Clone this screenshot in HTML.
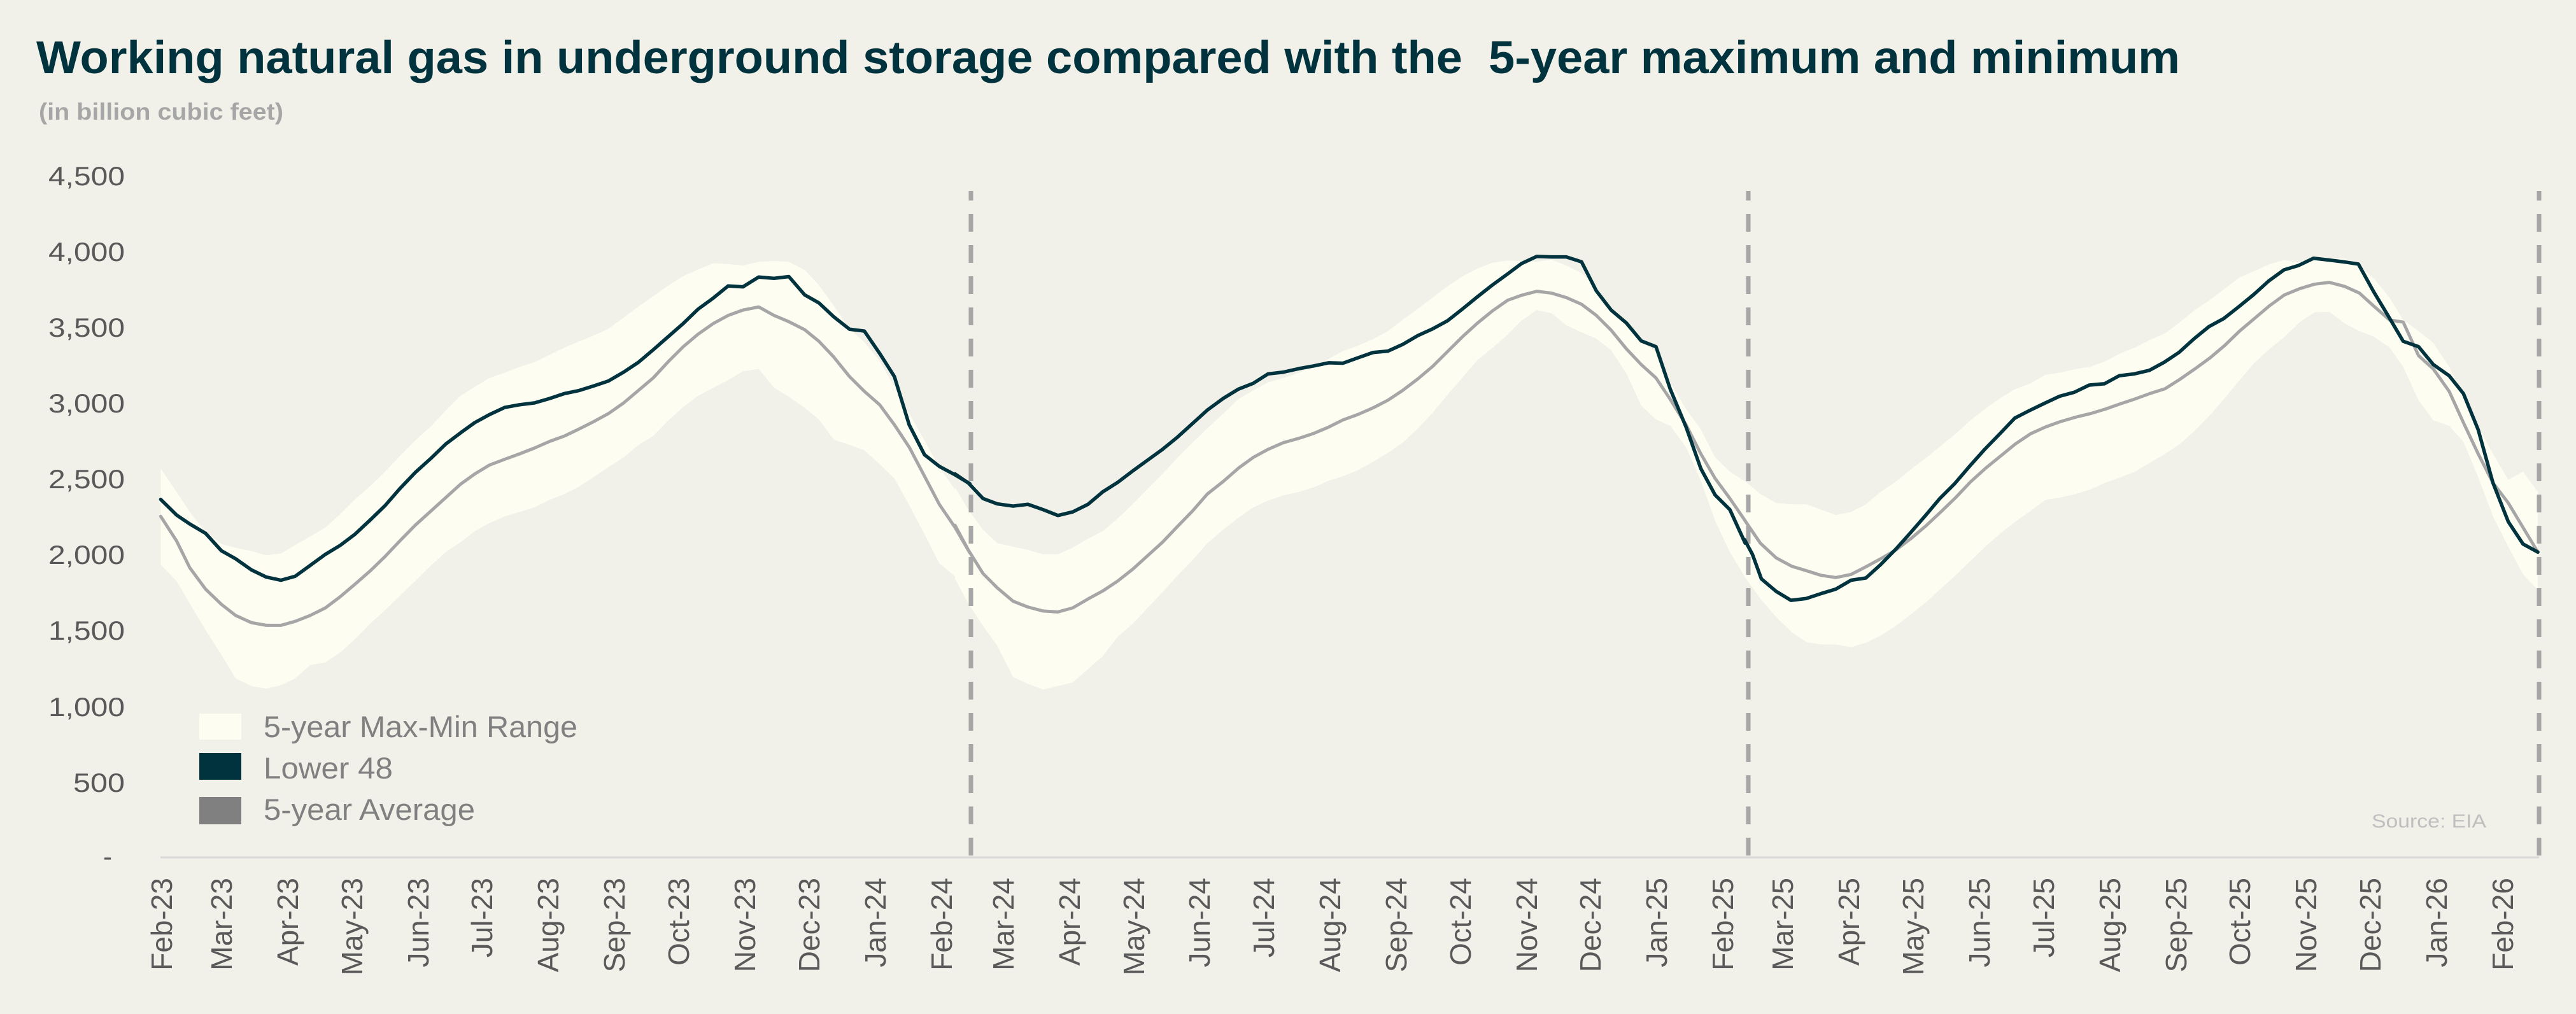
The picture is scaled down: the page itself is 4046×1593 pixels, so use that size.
<!DOCTYPE html>
<html>
<head>
<meta charset="utf-8">
<style>
  html, body { margin: 0; padding: 0; background: #f1f0e9; }
  svg { display: block; }
  text { font-family: "Liberation Sans", Arial, sans-serif; }
</style>
</head>
<body>
<svg width="4046" height="1593" viewBox="0 0 4046 1593" xmlns="http://www.w3.org/2000/svg">
  <rect x="0" y="0" width="4046" height="1593" fill="#f1f0e9"/>

  <!-- Title -->
  <text x="57" y="115" font-size="72" font-weight="bold" fill="#00333d" textLength="3367" lengthAdjust="spacingAndGlyphs" style="white-space:pre">Working natural gas in underground storage compared with the  5-year maximum and minimum</text>
  <text x="61" y="188" font-size="37" font-weight="bold" fill="#a6a6a6" textLength="384" lengthAdjust="spacingAndGlyphs">(in billion cubic feet)</text>

  <!-- Y axis labels -->
  <g font-size="42" fill="#595959" text-anchor="end">
    <text x="196" y="291" textLength="120" lengthAdjust="spacingAndGlyphs">4,500</text>
    <text x="196" y="410" textLength="120" lengthAdjust="spacingAndGlyphs">4,000</text>
    <text x="196" y="529" textLength="120" lengthAdjust="spacingAndGlyphs">3,500</text>
    <text x="196" y="648" textLength="120" lengthAdjust="spacingAndGlyphs">3,000</text>
    <text x="196" y="767" textLength="120" lengthAdjust="spacingAndGlyphs">2,500</text>
    <text x="196" y="886" textLength="120" lengthAdjust="spacingAndGlyphs">2,000</text>
    <text x="196" y="1005" textLength="120" lengthAdjust="spacingAndGlyphs">1,500</text>
    <text x="196" y="1125" textLength="120" lengthAdjust="spacingAndGlyphs">1,000</text>
    <text x="196" y="1244" textLength="81" lengthAdjust="spacingAndGlyphs">500</text>
    <text x="176" y="1360">-</text>
  </g>

  <!-- Band (5-year max-min range) -->
  <g fill="#fdfdf2">
    <polygon transform="translate(240,250) scale(0.82905,0.70151)" points="15,693 45,745 70,790 100,835 130,862 157,870 187,878 215,887 243,883 270,864 298,845 327,825 355,795 383,762 412,732 440,700 468,665 497,630 527,598 555,563 583,530 610,510 638,490 667,478 695,465 723,455 752,438 780,422 808,408 835,395 863,380 892,355 920,330 948,307 977,283 1005,262 1033,247 1062,233 1090,235 1118,238 1148,230 1177,228 1205,230 1235,248 1262,282 1290,328 1320,380 1348,410 1377,452 1405,510 1433,570 1462,630 1490,690 1520,740 1548,795 1568,830 1568,1035 1548,1000 1520,935 1490,905 1462,840 1433,775 1405,715 1377,683 1348,652 1320,640 1290,628 1262,583 1235,557 1205,532 1177,512 1148,470 1118,475 1090,495 1062,512 1033,530 1005,555 977,585 948,620 920,640 892,668 863,690 835,712 808,733 780,750 752,763 723,780 695,790 667,800 638,815 610,833 583,858 555,880 527,910 497,945 468,978 440,1010 412,1040 383,1075 355,1105 327,1127 298,1133 270,1163 243,1178 215,1186 187,1180 157,1163 130,1110 100,1055 70,995 45,945 15,908"/>
    <polygon transform="translate(1500,250) scale(0.82905,0.70151)" points="0,735 25,785 53,830 80,860 110,868 138,875 167,885 195,885 223,870 252,850 280,833 308,805 337,772 365,738 393,705 422,668 450,635 478,603 508,570 537,537 565,518 593,500 622,490 652,478 680,465 708,447 735,430 763,418 792,403 820,385 848,360 877,335 905,310 933,285 962,262 990,245 1018,232 1047,227 1073,228 1102,230 1130,225 1158,238 1187,255 1215,288 1243,330 1272,375 1300,410 1328,430 1355,500 1385,560 1413,605 1440,668 1468,700 1497,722 1525,752 1553,770 1568,772 1568,1040 1553,1022 1525,983 1497,937 1468,880 1440,810 1413,720 1385,645 1355,597 1328,583 1300,552 1272,480 1243,428 1215,402 1187,388 1158,372 1130,345 1102,338 1073,362 1047,393 1018,423 990,450 962,488 933,528 905,568 877,603 848,635 820,658 792,678 763,697 735,710 708,720 680,735 652,745 622,753 593,765 565,780 537,803 508,830 478,860 450,898 422,932 393,970 365,1005 337,1040 308,1070 280,1113 252,1142 223,1172 195,1180 167,1188 138,1175 110,1160 80,1090 53,1045 25,995 0,940"/>
    <polygon transform="translate(2740,250) scale(0.82905,0.70151)" points="0,720 30,750 60,770 90,773 118,773 145,785 173,797 202,790 230,773 258,745 287,722 315,695 343,670 372,642 400,615 428,585 457,558 485,535 513,515 542,502 570,483 598,478 627,470 655,465 683,453 712,435 740,422 768,405 797,390 825,365 853,338 882,315 910,290 938,265 967,250 995,235 1023,226 1052,232 1080,225 1108,222 1137,222 1165,240 1193,268 1222,310 1248,360 1277,385 1305,412 1335,465 1362,530 1390,600 1418,660 1447,718 1475,700 1503,745 1503,965 1475,930 1447,868 1418,800 1390,712 1362,633 1335,597 1305,585 1277,540 1248,465 1222,422 1193,398 1165,385 1137,368 1108,342 1080,343 1052,365 1023,398 995,425 967,455 938,495 910,535 882,573 853,608 825,638 797,660 768,680 740,700 712,713 683,725 655,740 627,750 598,758 570,763 542,788 513,812 485,838 457,867 428,900 400,932 372,962 343,993 315,1020 287,1045 258,1067 230,1083 202,1093 173,1087 145,1087 118,1082 90,1060 60,1025 30,980 0,935"/>
  </g>

  <!-- X axis line -->
  <line x1="252" y1="1347" x2="3988" y2="1347" stroke="#d9d9d9" stroke-width="3"/>

  <!-- Dashed year markers -->
  <g stroke="#a6a6a6" stroke-width="7" stroke-dasharray="28 21">
    <line x1="1525" y1="1344" x2="1525" y2="300"/>
    <line x1="2746" y1="1344" x2="2746" y2="300"/>
    <line x1="3988" y1="1344" x2="3988" y2="300"/>
  </g>

  <!-- 5-year Average -->
  <g fill="none" stroke="#a6a6a6" stroke-width="5" stroke-linejoin="round" stroke-linecap="round">
    <polyline vector-effect="non-scaling-stroke" transform="translate(240,250) scale(0.82905,0.70151)" points="15,800 45,855 70,915 100,963 130,997 157,1022 187,1038 215,1044 243,1044 270,1035 298,1022 327,1005 355,980 383,952 412,922 440,890 468,855 497,820 527,788 555,758 583,728 610,705 638,685 667,672 695,660 723,647 752,632 780,620 808,604 835,588 863,570 892,546 920,518 948,490 977,453 1005,420 1033,392 1062,368 1090,350 1118,338 1148,331 1177,350 1205,364 1235,382 1262,408 1290,443 1320,487 1348,520 1377,550 1405,595 1433,645 1462,710 1490,773 1520,825 1548,882"/>
    <polyline vector-effect="non-scaling-stroke" transform="translate(1500,250) scale(0.82905,0.70151)" points="0,820 25,875 53,928 80,960 110,990 138,1003 167,1012 195,1014 223,1005 252,985 280,967 308,945 337,918 365,888 393,858 422,822 450,788 478,750 508,722 537,692 565,668 593,650 622,635 652,625 680,614 708,600 735,584 763,572 792,557 820,540 848,518 877,492 905,464 933,431 962,397 990,367 1018,340 1047,316 1073,305 1102,296 1130,300 1158,310 1187,325 1215,350 1243,383 1272,425 1300,460 1328,490 1355,538 1385,595 1413,660 1440,715 1468,760 1497,810"/>
    <polyline vector-effect="non-scaling-stroke" transform="translate(2740,250) scale(0.82905,0.70151)" points="0,808 30,860 60,893 90,912 118,922 145,932 173,937 202,930 230,913 258,895 287,875 315,850 343,822 372,790 400,758 428,723 457,692 485,665 513,638 542,615 570,600 598,588 627,578 655,570 683,560 712,548 740,537 768,525 797,514 825,493 853,470 882,445 910,417 938,385 967,356 995,328 1023,304 1052,290 1080,280 1108,276 1137,285 1165,300 1193,330 1222,360 1248,365 1277,440 1305,470 1335,520 1362,590 1390,660 1418,725 1447,770 1475,825 1503,880"/>
  </g>

  <!-- Lower 48 -->
  <g fill="none" stroke="#00333d" stroke-width="5.5" stroke-linejoin="round" stroke-linecap="round">
    <polyline vector-effect="non-scaling-stroke" transform="translate(240,250) scale(0.82905,0.70151)" points="15,762 45,797 70,817 100,838 130,877 157,895 187,920 215,936 243,943 270,934 298,910 327,885 355,865 383,840 412,808 440,776 468,738 497,702 527,670 555,638 583,613 610,590 638,572 667,556 695,550 723,546 752,536 780,525 808,518 835,508 863,497 892,477 920,455 948,427 977,397 1005,368 1033,336 1062,311 1090,284 1118,286 1148,264 1177,267 1205,263 1235,304 1262,322 1290,353 1320,381 1348,385 1377,435 1405,487 1433,595 1462,662 1490,688 1520,707 1548,727"/>
    <polyline vector-effect="non-scaling-stroke" transform="translate(1500,250) scale(0.82905,0.70151)" points="0,705 25,725 53,760 80,772 110,777 138,773 167,785 195,798 223,790 252,773 280,745 308,724 337,698 365,674 393,650 422,622 450,592 478,562 508,536 537,515 565,502 593,481 622,477 652,469 680,463 708,456 735,457 763,445 792,433 820,430 848,415 877,395 905,380 933,362 962,335 990,308 1018,282 1047,257 1073,234 1102,218 1130,219 1158,219 1187,230 1215,295 1243,338 1272,367 1300,407 1328,420 1355,515 1385,600 1413,693 1440,752 1468,785 1497,860"/>
    <polyline vector-effect="non-scaling-stroke" transform="translate(2740,250) scale(0.82905,0.70151)" points="0,852 15,885 32,940 60,968 88,988 117,984 145,973 173,963 202,943 230,938 258,908 287,873 315,836 343,798 370,760 398,727 427,687 455,650 483,616 512,580 540,563 568,547 597,531 625,522 653,506 682,503 710,485 738,481 767,473 795,455 823,433 852,402 880,375 908,357 937,330 965,303 993,273 1022,248 1050,238 1078,222 1107,226 1135,230 1163,235 1192,297 1220,352 1248,408 1277,420 1305,460 1335,485 1362,525 1390,606 1418,725 1447,812 1475,862 1503,880"/>
  </g>

  <!-- Legend -->
  <rect x="313" y="1121" width="66" height="41" fill="#fdfdf2"/>
  <rect x="313" y="1183" width="66" height="42" fill="#00333d"/>
  <rect x="313" y="1252" width="66" height="43" fill="#808080"/>
  <g font-size="47" fill="#808080">
    <text x="414" y="1158" textLength="493" lengthAdjust="spacingAndGlyphs">5-year Max-Min Range</text>
    <text x="414" y="1223" textLength="203" lengthAdjust="spacingAndGlyphs">Lower 48</text>
    <text x="414" y="1288" textLength="332" lengthAdjust="spacingAndGlyphs">5-year Average</text>
  </g>

  <!-- Source -->
  <text x="3725" y="1300" font-size="30" fill="#bfbfbf" textLength="180" lengthAdjust="spacingAndGlyphs">Source: EIA</text>

  <!-- X axis labels -->
  <g font-size="46" fill="#595959" text-anchor="end">
    <text transform="translate(270,1379) rotate(-90)">Feb-23</text>
    <text transform="translate(364,1379) rotate(-90)">Mar-23</text>
    <text transform="translate(468,1379) rotate(-90)">Apr-23</text>
    <text transform="translate(569,1379) rotate(-90)">May-23</text>
    <text transform="translate(673,1379) rotate(-90)">Jun-23</text>
    <text transform="translate(773,1379) rotate(-90)">Jul-23</text>
    <text transform="translate(877,1379) rotate(-90)">Aug-23</text>
    <text transform="translate(981,1379) rotate(-90)">Sep-23</text>
    <text transform="translate(1082,1379) rotate(-90)">Oct-23</text>
    <text transform="translate(1186,1379) rotate(-90)">Nov-23</text>
    <text transform="translate(1287,1379) rotate(-90)">Dec-23</text>
    <text transform="translate(1391,1379) rotate(-90)">Jan-24</text>
    <text transform="translate(1495,1379) rotate(-90)">Feb-24</text>
    <text transform="translate(1592,1379) rotate(-90)">Mar-24</text>
    <text transform="translate(1696,1379) rotate(-90)">Apr-24</text>
    <text transform="translate(1797,1379) rotate(-90)">May-24</text>
    <text transform="translate(1900,1379) rotate(-90)">Jun-24</text>
    <text transform="translate(2001,1379) rotate(-90)">Jul-24</text>
    <text transform="translate(2105,1379) rotate(-90)">Aug-24</text>
    <text transform="translate(2209,1379) rotate(-90)">Sep-24</text>
    <text transform="translate(2310,1379) rotate(-90)">Oct-24</text>
    <text transform="translate(2414,1379) rotate(-90)">Nov-24</text>
    <text transform="translate(2514,1379) rotate(-90)">Dec-24</text>
    <text transform="translate(2618,1379) rotate(-90)">Jan-25</text>
    <text transform="translate(2722,1379) rotate(-90)">Feb-25</text>
    <text transform="translate(2816,1379) rotate(-90)">Mar-25</text>
    <text transform="translate(2920,1379) rotate(-90)">Apr-25</text>
    <text transform="translate(3021,1379) rotate(-90)">May-25</text>
    <text transform="translate(3125,1379) rotate(-90)">Jun-25</text>
    <text transform="translate(3226,1379) rotate(-90)">Jul-25</text>
    <text transform="translate(3330,1379) rotate(-90)">Aug-25</text>
    <text transform="translate(3434,1379) rotate(-90)">Sep-25</text>
    <text transform="translate(3534,1379) rotate(-90)">Oct-25</text>
    <text transform="translate(3638,1379) rotate(-90)">Nov-25</text>
    <text transform="translate(3739,1379) rotate(-90)">Dec-25</text>
    <text transform="translate(3843,1379) rotate(-90)">Jan-26</text>
    <text transform="translate(3947,1379) rotate(-90)">Feb-26</text>
  </g>
</svg>
</body>
</html>
